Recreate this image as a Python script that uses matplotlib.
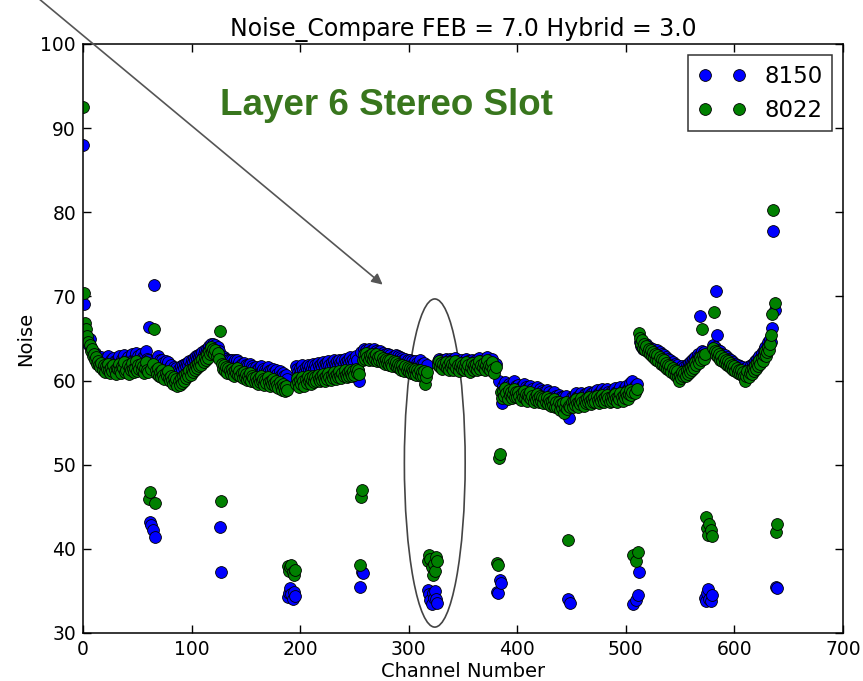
import matplotlib
matplotlib.use('Agg')
import matplotlib.pyplot as plt
from matplotlib.patches import Ellipse
import numpy as np

# noise per channel (640 channels, 16 per row)
noise_8150 = [
    88.0, 69.1, 66.0, 65.2, 64.8, 64.3, 64.9, 63.9, 63.6, 63.4, 63.0, 63.3, 62.7, 62.9, 62.4, 62.6,
    62.4, 62.8, 62.2, 62.6, 62.0, 62.5, 62.3, 62.9, 62.1, 61.9, 62.4, 62.2, 62.7, 62.3, 61.8, 62.5,
    62.3, 62.9, 62.1, 62.0, 62.6, 62.4, 63.0, 62.2, 62.5, 62.8, 61.9, 62.6, 62.4, 63.1, 62.5, 62.2,
    62.6, 63.3, 62.4, 62.9, 62.5, 63.2, 62.3, 62.8, 62.2, 62.9, 63.5, 62.6, 62.4, 66.4, 43.2, 42.8,
    42.2, 71.3, 41.4, 62.6, 62.2, 62.9, 62.0, 62.4, 61.8, 62.5, 62.1, 61.6, 62.3, 61.8, 62.2, 61.5,
    61.4, 61.9, 61.3, 61.0, 61.6, 61.2, 61.5, 60.9, 61.4, 61.1, 61.7, 61.3, 61.8, 61.5, 62.0, 61.7,
    62.1, 61.8, 62.3, 62.0, 62.5, 62.2, 62.7, 62.4, 62.9, 62.6, 63.0, 62.8, 63.2, 62.9, 63.4, 63.1,
    63.6, 63.3, 63.8, 63.5, 64.1, 63.8, 64.4, 64.0, 64.3, 63.9, 64.2, 63.7, 64.0, 63.5, 42.6, 37.3,
    62.9, 62.5, 62.8, 62.3, 62.6, 62.1, 62.5, 62.4, 62.0, 62.5, 62.1, 61.8, 62.4, 62.0, 62.5, 61.9,
    62.2, 61.7, 62.0, 61.6, 62.1, 61.5, 61.9, 61.3, 61.8, 61.4, 62.0, 61.2, 61.7, 61.5, 61.0, 61.6,
    61.2, 60.9, 61.5, 61.0, 61.7, 61.1, 61.4, 60.8, 61.3, 61.0, 61.6, 61.1, 60.7, 61.2, 60.9, 61.4,
    61.0, 60.6, 61.2, 60.8, 60.4, 61.1, 60.7, 60.3, 60.9, 60.5, 60.1, 60.7, 60.2, 34.3, 34.8, 35.3,
    34.6, 34.0, 34.9, 34.4, 61.7, 61.4, 61.0, 60.7, 61.5, 61.1, 61.8, 61.3, 60.9, 61.6, 61.2, 61.9,
    61.3, 61.7, 61.1, 61.5, 62.0, 61.4, 61.8, 61.5, 62.1, 61.7, 61.4, 62.0, 61.6, 62.2, 61.9, 61.5,
    62.1, 61.8, 62.3, 61.9, 61.6, 62.2, 61.8, 62.4, 62.0, 61.7, 62.3, 61.9, 62.5, 62.1, 61.8, 62.4,
    62.0, 62.6, 62.2, 61.9, 62.5, 62.1, 62.8, 62.3, 62.0, 62.6, 62.2, 62.9, 62.4, 61.3, 59.9, 35.5,
    63.4, 37.3, 37.1, 63.8, 63.3, 63.6, 63.2, 63.7, 63.4, 63.1, 63.6, 63.3, 63.8, 63.2, 63.5, 63.0,
    63.4, 63.1, 63.5, 62.9, 63.3, 63.0, 62.7, 63.2, 62.8, 63.1, 62.6, 63.0, 62.7, 62.5, 62.9, 62.6,
    63.0, 62.5, 62.9, 62.4, 62.8, 62.3, 62.7, 62.4, 62.1, 62.6, 62.2, 62.5, 62.0, 62.4, 61.9, 62.3,
    62.0, 61.8, 62.3, 61.7, 62.1, 61.9, 62.4, 61.6, 62.0, 61.5, 62.1, 61.2, 61.4, 61.9, 35.1, 34.6,
    33.9, 33.4, 34.8, 34.2, 35.0, 34.0, 33.6, 62.3, 62.6, 62.0, 62.5, 61.9, 62.4, 62.1, 62.6, 62.0,
    62.3, 61.8, 62.6, 62.0, 62.4, 61.7, 62.2, 62.7, 61.9, 62.3, 61.6, 62.1, 62.5, 61.9, 62.2, 61.7,
    62.1, 62.6, 61.9, 62.3, 61.5, 62.0, 62.5, 61.8, 62.2, 62.0, 62.4, 61.7, 62.1, 62.7, 61.9, 62.3,
    62.0, 62.5, 61.8, 62.2, 62.8, 61.9, 62.3, 61.7, 62.1, 62.6, 61.9, 61.4, 62.0, 34.9, 34.7, 59.9,
    36.3, 36.0, 57.3, 59.4, 58.9, 59.8, 59.2, 58.6, 59.6, 59.0, 59.5, 58.7, 59.2, 59.9, 58.9, 59.4,
    58.8, 59.5, 59.0, 58.5, 59.3, 58.9, 59.6, 58.7, 59.2, 58.4, 59.1, 58.8, 59.4, 58.6, 59.0, 58.3,
    58.9, 58.5, 59.2, 58.7, 58.2, 59.0, 58.4, 58.8, 58.1, 58.7, 58.3, 58.9, 58.0, 58.6, 58.2, 57.8,
    58.4, 57.9, 58.6, 57.6, 58.2, 57.7, 58.3, 57.3, 58.0, 57.5, 58.1, 56.9, 57.7, 58.2, 57.4, 34.0,
    55.5, 33.6, 58.0, 57.6, 58.2, 57.8, 58.5, 58.0, 57.6, 58.2, 57.9, 58.5, 58.1, 57.7, 58.4, 58.0,
    58.5, 58.2, 58.7, 58.3, 57.9, 58.5, 58.1, 58.7, 58.2, 58.9, 58.4, 58.0, 58.7, 58.3, 59.0, 58.5,
    58.2, 58.8, 58.4, 59.0, 58.6, 58.1, 58.7, 58.3, 58.9, 58.5, 59.1, 58.6, 58.2, 58.8, 58.5, 59.2,
    58.7, 58.3, 59.0, 58.6, 59.3, 58.9, 58.5, 59.1, 59.7, 59.0, 59.9, 33.5, 59.4, 33.9, 59.6, 34.5,
    37.3, 64.6, 64.1, 64.5, 63.8, 64.2, 63.9, 64.3, 63.6, 64.0, 63.4, 63.8, 63.2, 63.7, 63.0, 63.5,
    63.3, 63.6, 63.1, 63.4, 62.8, 63.2, 62.6, 63.0, 62.4, 62.8, 62.2, 62.6, 62.0, 62.4, 61.8, 62.2,
    61.6, 62.0, 61.4, 61.8, 61.2, 60.9, 61.5, 61.1, 61.7, 61.3, 61.6, 61.4, 61.9, 61.6, 62.1, 61.8,
    62.3, 62.1, 62.6, 62.3, 62.8, 62.5, 63.1, 62.9, 67.7, 63.2, 63.5, 63.0, 63.4, 34.2, 33.8, 34.8,
    35.2, 34.0, 33.8, 34.5, 64.2, 63.8, 64.0, 70.6, 65.4, 63.6, 63.3, 63.5, 62.9, 63.2, 62.7, 63.0,
    62.5, 62.8, 62.3, 62.6, 62.1, 62.4, 61.9, 62.2, 61.7, 62.0, 61.5, 61.8, 61.4, 61.7, 61.3, 61.6,
    61.2, 61.4, 60.8, 61.1, 61.6, 61.0, 61.5, 61.9, 61.4, 62.0, 61.7, 62.3, 61.9, 62.6, 62.2, 62.9,
    62.6, 63.3, 62.9, 63.6, 64.0, 63.4, 63.9, 64.6, 64.2, 64.9, 64.6, 66.2, 77.8, 68.4, 35.5, 35.3,
]

noise_8022 = [
    92.5, 70.4, 66.8, 66.1, 65.3, 64.6, 64.2, 63.5, 63.8, 62.9, 63.1, 62.4, 62.8, 62.0, 62.3, 61.8,
    61.6, 62.1, 61.3, 61.9, 61.0, 61.7, 61.4, 62.0, 61.2, 60.9, 61.6, 61.1, 61.8, 61.3, 60.8, 61.5,
    61.4, 62.0, 61.2, 60.9, 61.7, 61.5, 62.2, 61.0, 61.3, 61.8, 60.8, 61.6, 61.2, 62.1, 61.4, 61.0,
    61.5, 62.3, 61.1, 61.8, 61.4, 62.0, 61.2, 61.7, 60.9, 61.5, 62.2, 61.3, 61.0, 45.9, 46.8, 61.4,
    62.0, 66.1, 45.5, 61.2, 60.8, 61.5, 60.6, 61.0, 60.4, 61.2, 60.7, 60.2, 60.9, 60.5, 61.1, 60.3,
    59.9, 60.6, 60.1, 59.6, 60.4, 59.8, 60.2, 59.3, 60.0, 59.5, 60.3, 59.7, 60.5, 60.0, 60.8, 60.3,
    60.9, 60.5, 61.2, 60.7, 61.4, 61.0, 61.6, 61.2, 61.9, 61.5, 62.1, 61.7, 62.3, 61.9, 62.6, 62.2,
    62.8, 62.4, 63.1, 62.7, 63.5, 63.2, 64.0, 63.4, 63.8, 63.1, 63.6, 62.9, 63.3, 62.6, 65.9, 45.7,
    62.0, 61.4, 61.8, 61.1, 61.6, 60.9, 61.5, 61.2, 60.8, 61.4, 61.0, 60.6, 61.3, 60.9, 61.5, 60.7,
    61.1, 60.5, 60.9, 60.3, 61.0, 60.4, 60.8, 60.1, 60.6, 60.2, 60.9, 60.0, 60.5, 60.3, 59.8, 60.4,
    60.0, 59.6, 60.3, 59.8, 60.5, 59.9, 60.2, 59.5, 60.1, 59.7, 60.4, 59.8, 59.4, 60.0, 59.6, 60.2,
    59.7, 59.3, 59.9, 59.5, 59.1, 59.8, 59.4, 58.9, 59.6, 59.2, 58.8, 59.4, 58.9, 38.0, 37.4, 37.8,
    38.1, 37.2, 36.9, 37.5, 59.6, 60.3, 59.8, 59.2, 60.1, 59.6, 60.4, 59.9, 59.4, 60.2, 59.7, 60.5,
    59.9, 60.3, 59.6, 60.1, 60.6, 59.8, 60.4, 60.0, 60.7, 60.2, 59.9, 60.5, 60.1, 60.8, 60.3, 60.0,
    60.6, 60.2, 60.9, 60.4, 60.1, 60.7, 60.3, 61.0, 60.5, 60.2, 60.8, 60.4, 61.1, 60.6, 60.3, 60.9,
    60.5, 61.2, 60.7, 60.4, 61.0, 60.6, 61.3, 60.8, 60.5, 61.1, 60.7, 61.4, 60.9, 61.2, 60.8, 38.1,
    46.2, 47.0, 62.4, 63.1, 62.6, 63.3, 62.8, 62.5, 63.0, 62.7, 63.2, 62.4, 62.9, 62.6, 63.1, 62.3,
    62.8, 62.4, 62.9, 62.2, 62.7, 62.3, 62.0, 62.6, 62.1, 62.5, 61.9, 62.4, 62.0, 61.7, 62.3, 61.8,
    62.2, 61.6, 62.0, 61.5, 61.9, 61.3, 61.8, 61.4, 61.1, 61.7, 61.2, 61.6, 61.0, 61.5, 60.9, 61.4,
    61.1, 60.8, 61.4, 60.7, 61.2, 60.9, 61.3, 60.6, 61.0, 60.5, 61.1, 59.6, 60.4, 61.0, 38.5, 39.3,
    38.8, 37.8, 36.9, 38.2, 37.4, 39.0, 38.6, 61.9, 62.3, 61.6, 62.1, 61.4, 62.0, 61.7, 62.2, 61.5,
    61.9, 61.3, 62.2, 61.6, 62.0, 61.2, 61.8, 62.3, 61.5, 61.9, 61.1, 61.7, 62.1, 61.4, 61.8, 61.2,
    61.7, 62.2, 61.4, 61.9, 61.0, 61.6, 62.1, 61.3, 61.8, 61.5, 62.0, 61.2, 61.7, 62.3, 61.4, 61.9,
    61.6, 62.1, 61.3, 61.8, 62.4, 61.5, 61.9, 61.2, 61.7, 62.2, 61.4, 60.9, 61.6, 38.3, 38.1, 50.8,
    51.3, 58.6, 57.9, 58.8, 58.2, 59.1, 58.5, 57.8, 58.9, 58.3, 58.7, 57.9, 58.4, 59.0, 58.1, 58.6,
    58.0, 58.7, 58.2, 57.7, 58.5, 58.1, 58.8, 57.9, 58.4, 57.6, 58.3, 58.0, 58.6, 57.8, 58.2, 57.5,
    58.1, 57.7, 58.4, 57.9, 57.4, 58.2, 57.6, 58.0, 57.3, 57.9, 57.5, 58.1, 57.2, 57.8, 57.4, 57.0,
    57.6, 57.1, 57.8, 56.8, 57.4, 56.9, 57.5, 56.5, 57.2, 56.7, 57.3, 56.1, 56.9, 57.4, 56.6, 41.1,
    57.0, 56.8, 57.4, 56.9, 57.6, 57.1, 57.8, 57.3, 56.9, 57.5, 57.2, 57.9, 57.4, 57.0, 57.7, 57.3,
    57.9, 57.5, 58.1, 57.6, 57.2, 57.8, 57.4, 58.0, 57.5, 58.2, 57.7, 57.3, 58.0, 57.6, 58.3, 57.8,
    57.5, 58.1, 57.7, 58.3, 57.9, 57.4, 58.0, 57.6, 58.2, 57.8, 58.4, 57.9, 57.5, 58.1, 57.8, 58.5,
    58.0, 57.6, 58.3, 57.9, 58.6, 58.2, 57.8, 58.4, 58.9, 58.3, 58.7, 39.3, 58.5, 38.5, 59.0, 39.6,
    65.6, 65.0, 64.4, 64.8, 63.9, 64.3, 63.6, 64.1, 63.4, 63.8, 63.1, 63.6, 62.9, 63.4, 62.7, 63.2,
    62.5, 63.0, 62.3, 62.8, 62.0, 62.6, 61.8, 62.4, 61.6, 62.1, 61.4, 61.9, 61.2, 61.7, 61.0, 61.5,
    60.8, 61.3, 60.6, 61.1, 60.4, 59.9, 60.7, 60.3, 61.0, 60.5, 60.9, 60.6, 61.2, 60.8, 61.4, 61.0,
    61.6, 61.3, 61.9, 61.5, 62.2, 61.8, 62.5, 62.1, 62.8, 62.4, 66.1, 63.0, 62.6, 63.2, 43.8, 42.5,
    41.6, 43.0, 42.2, 41.5, 63.9, 68.1, 63.5, 63.0, 63.4, 62.8, 63.1, 62.5, 62.9, 62.3, 62.7, 62.1,
    62.5, 61.9, 62.3, 61.7, 62.1, 61.5, 61.9, 61.3, 61.7, 61.1, 61.5, 60.9, 61.3, 60.8, 61.2, 60.7,
    61.0, 60.5, 59.9, 60.6, 61.1, 60.4, 60.9, 61.3, 60.8, 61.5, 61.1, 61.8, 61.4, 62.1, 61.7, 62.4,
    62.0, 62.7, 62.3, 63.0, 63.5, 62.9, 63.4, 64.0, 63.6, 64.4, 65.4, 67.9, 80.3, 69.2, 42.0, 43.0,
]

channels = np.arange(len(noise_8150))

fig = plt.figure(figsize=(8.63, 6.81), dpi=100)
ax = fig.add_axes([0.0962, 0.0705, 0.8806, 0.8649])

ax.plot(channels, noise_8150, 'o', color='#0000ff', mec='k', mew=0.6, ms=8.5, label='8150')
ax.plot(channels, noise_8022, 'o', color='#008000', mec='k', mew=0.6, ms=8.5, label='8022')

ax.set_xlim(0, 700)
ax.set_ylim(30, 100)
ax.set_xticks(range(0, 701, 100))
ax.set_yticks(range(30, 101, 10))
ax.tick_params(direction='in', top=True, right=True, length=5.5, width=1,
               labelsize=13.5, pad=5)
for s in ax.spines.values():
    s.set_linewidth(1.1)

ax.set_title('Noise_Compare FEB = 7.0 Hybrid = 3.0', fontsize=17, pad=6)
ax.set_xlabel('Channel Number', fontsize=14, labelpad=2)
ax.set_ylabel('Noise', fontsize=14)

leg = ax.legend(loc='upper right', numpoints=2, fontsize=16.5, fancybox=False,
                handlelength=2.1, borderaxespad=0.5)
leg.get_frame().set_edgecolor('k')
leg.get_frame().set_linewidth(1.1)

# slide annotations
ax.text(126.2, 91.56, 'Layer 6 Stereo Slot', color='#38761d', fontsize=26.5,
        fontweight='bold', family='Liberation Sans', ha='left', va='baseline')
ax.annotate('', xy=(276, 71.4), xytext=(38, 683), textcoords='figure pixels',
            arrowprops=dict(arrowstyle='-|>', color='#555555', lw=1.2,
                            mutation_scale=16, shrinkA=0, shrinkB=0),
            annotation_clip=False)
ax.add_patch(Ellipse((324, 50.2), 56, 39, fill=False, edgecolor='#444444',
                     lw=1.2, clip_on=False))

fig.savefig('out.png', dpi=100)
